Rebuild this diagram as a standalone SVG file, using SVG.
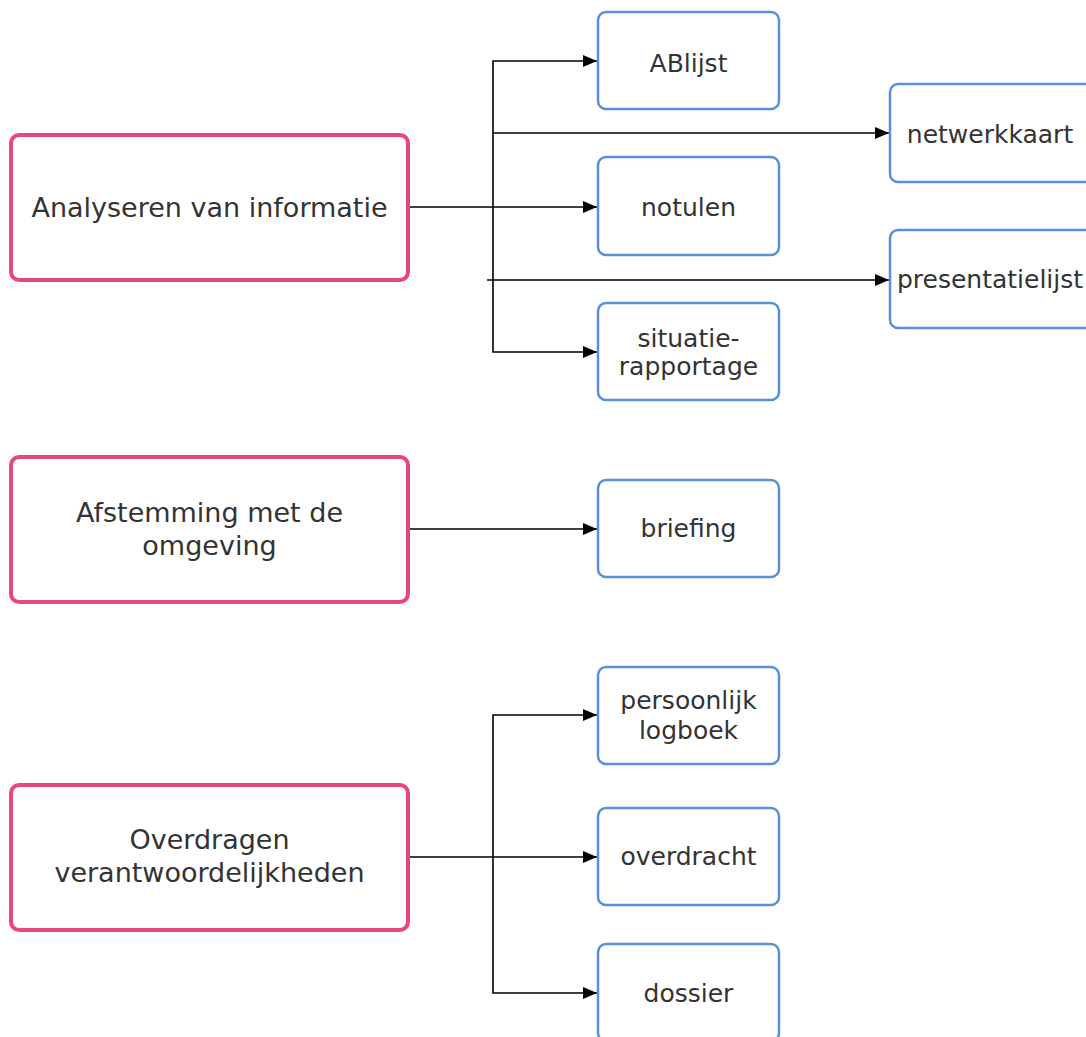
<svg xmlns="http://www.w3.org/2000/svg" width="1086" height="1037" viewBox="0 0 1086 1037">
<style>
.p{fill:#fff;stroke:#e9467c;stroke-width:4}
.b{fill:#fff;stroke:#5b8fdb;stroke-width:2.5}
text{font-family:"DejaVu Sans",Verdana,sans-serif;font-size:25px;fill:#333;text-anchor:middle}
.pt{font-size:27px}
.c{fill:none;stroke:#000;stroke-width:1.6}
</style>
<defs>
<marker id="a" viewBox="0 0 14 12" refX="14" refY="6" markerWidth="14" markerHeight="12" markerUnits="userSpaceOnUse" orient="auto">
<path d="M0,0 L14,6 L0,12 z" fill="#000"/>
</marker>
</defs>
<g id="connectors">
<path class="c" d="M409,207 H597" marker-end="url(#a)"/>
<path class="c" d="M493,207 V61 H597" marker-end="url(#a)"/>
<path class="c" d="M493,207 V352 H597" marker-end="url(#a)"/>
<path class="c" d="M493,133 H889" marker-end="url(#a)"/>
<path class="c" d="M487,280 H889" marker-end="url(#a)"/>
<path class="c" d="M409,529 H597" marker-end="url(#a)"/>
<path class="c" d="M409,857 H597" marker-end="url(#a)"/>
<path class="c" d="M493,857 V715 H597" marker-end="url(#a)"/>
<path class="c" d="M493,857 V993 H597" marker-end="url(#a)"/>
</g>
<g id="analyseren"><rect class="p" x="11" y="135" width="397" height="145" rx="8"/><text class="pt" x="209.5" y="217">Analyseren van informatie</text></g>
<g id="afstemming"><rect class="p" x="11" y="457" width="397" height="145" rx="8"/><text class="pt" x="209.5" y="522">Afstemming met de</text><text class="pt" x="209.5" y="555">omgeving</text></g>
<g id="overdragen"><rect class="p" x="11" y="785" width="397" height="145" rx="8"/><text class="pt" x="209.5" y="849">Overdragen</text><text class="pt" x="209.5" y="882">verantwoordelijkheden</text></g>
<g id="ablijst"><rect class="b" x="598" y="12" width="181" height="97" rx="8"/><text x="688.5" y="72">ABlijst</text></g>
<g id="netwerkkaart"><rect class="b" x="890" y="84" width="205" height="98" rx="8"/><text x="990" y="143">netwerkkaart</text></g>
<g id="notulen"><rect class="b" x="598" y="157" width="181" height="98" rx="8"/><text x="688.5" y="216">notulen</text></g>
<g id="presentatielijst"><rect class="b" x="890" y="230" width="205" height="98" rx="8"/><text x="990" y="288">presentatielijst</text></g>
<g id="situatie"><rect class="b" x="598" y="303" width="181" height="97" rx="8"/><text x="688.5" y="347">situatie-</text><text x="688.5" y="375">rapportage</text></g>
<g id="briefing"><rect class="b" x="598" y="480" width="181" height="97" rx="8"/><text x="688.5" y="537">briefing</text></g>
<g id="persoonlijk"><rect class="b" x="598" y="667" width="181" height="97" rx="8"/><text x="688.5" y="709">persoonlijk</text><text x="688.5" y="739">logboek</text></g>
<g id="overdracht"><rect class="b" x="598" y="808" width="181" height="97" rx="8"/><text x="688.5" y="865">overdracht</text></g>
<g id="dossier"><rect class="b" x="598" y="944" width="181" height="97" rx="8"/><text x="688.5" y="1002">dossier</text></g>
</svg>
